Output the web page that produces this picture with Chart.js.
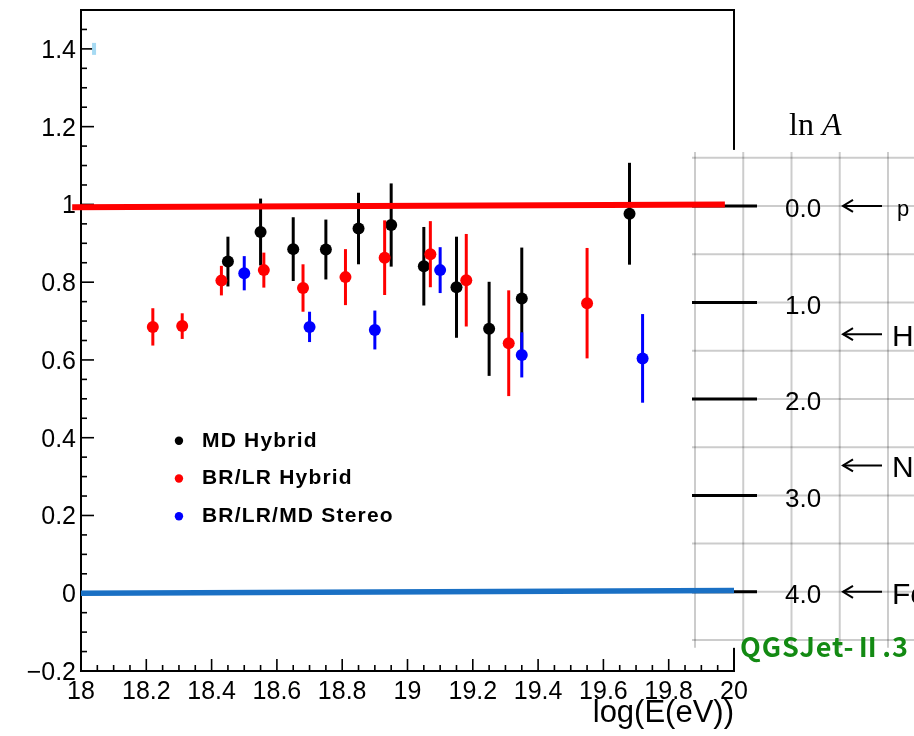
<!DOCTYPE html>
<html>
<head>
<meta charset="utf-8">
<script src="https://cdn.jsdelivr.net/npm/chart.js@4.4.1/dist/chart.umd.min.js"></script>
<style>
  html, body { margin: 0; padding: 0; background: #fff; }
  #wrap { width: 914px; height: 736px; }
</style>
</head>
<body>
<div id="wrap"><canvas id="c" width="914" height="736"></canvas></div>
<script>
// <Xmax>-like composition measure versus log10 energy, three detector sets
const mdX   = [18.45, 18.55, 18.65, 18.75, 18.85, 18.95, 19.05, 19.15, 19.25, 19.35, 19.68];
const mdY   = [0.853, 0.929, 0.885, 0.884, 0.938, 0.947, 0.841, 0.787, 0.680, 0.758, 0.976];
const mdErr = [0.064, 0.086, 0.082, 0.077, 0.092, 0.107, 0.101, 0.130, 0.121, 0.131, 0.131];

const brX   = [18.22, 18.31, 18.43, 18.56, 18.68, 18.81, 18.93, 19.07, 19.18, 19.31, 19.55];
const brY   = [0.685, 0.687, 0.804, 0.831, 0.785, 0.813, 0.863, 0.872, 0.805, 0.643, 0.746];
const brErr = [0.048, 0.033, 0.038, 0.045, 0.061, 0.072, 0.096, 0.085, 0.119, 0.136, 0.142];

const stX   = [18.50, 18.70, 18.90, 19.10, 19.35, 19.72];
const stY   = [0.823, 0.685, 0.677, 0.831, 0.613, 0.604];
const stErr = [0.044, 0.039, 0.050, 0.059, 0.058, 0.114];

// proton (top) and iron (bottom) reference lines
const protonLineX = [17.973, 19.972];
const protonLineY = [0.993, 1.000];
const ironLineX   = [18.0, 20.0];
const ironLineY   = [0.000, 0.007];

// small stray mark near the top-left corner
const markX = [18.04];
const markY = [1.40];

const seriesLabels = ['MD Hybrid', 'BR/LR Hybrid', 'BR/LR/MD Stereo'];

const xTickValues = [18, 18.2, 18.4, 18.6, 18.8, 19, 19.2, 19.4, 19.6, 19.8, 20];
const xTickLabels = ['18', '18.2', '18.4', '18.6', '18.8', '19', '19.2', '19.4', '19.6', '19.8', '20'];
const yTickValues = [-0.2, 0, 0.2, 0.4, 0.6, 0.8, 1.0, 1.2, 1.4];
const yTickLabels = ['\u22120.2', '0', '0.2', '0.4', '0.6', '0.8', '1', '1.2', '1.4'];
const lnATickValues = [0, 1, 2, 3, 4];
const lnATickLabels = ['0.0', '1.0', '2.0', '3.0', '4.0'];

const elementNames = ['p', 'He', 'N', 'Fe'];
const elementLnA   = [0, 1.33, 2.69, 4.0];
const modelName = 'QGSJet-\u2161.3';

const pts = (xs, ys) => xs.map((v, i) => ({ x: v, y: ys[i] }));

// keep the plot frame fixed: no extra room for half-labels at the axis ends
const noEndPadding = s => { s.paddingTop = 0; s.paddingBottom = 0; s.paddingLeft = 0; s.paddingRight = 0; };

// frame, ROOT-style inward ticks, the ln A side panel and the legend
const decorations = {
  id: 'decorations',
  beforeDraw(chart) {
    const { ctx, chartArea: a } = chart;
    const { x, y, lnA } = chart.scales;
    ctx.save();
    ctx.fillStyle = '#fff';
    ctx.fillRect(0, 0, chart.width, chart.height);

    const seg = (x1, y1, x2, y2) => { ctx.beginPath(); ctx.moveTo(x1, y1); ctx.lineTo(x2, y2); ctx.stroke(); };

    // plot frame
    ctx.strokeStyle = '#000';
    ctx.lineWidth = 2;
    ctx.strokeRect(a.left, a.top, a.right - a.left, a.bottom - a.top);

    // x ticks: major every 0.2, minor every 0.05
    ctx.lineWidth = 1.6;
    for (let i = 0; i <= 40; i++) {
      const px = x.getPixelForValue(18 + i * 0.05);
      seg(px, a.bottom, px, a.bottom - (i % 4 === 0 ? 12 : 6));
    }
    // y ticks
    for (let i = 0; i <= 34; i++) {
      const py = y.getPixelForValue(-0.2 + i * 0.05);
      seg(a.left, py, a.left + (i % 4 === 0 ? 13 : 6), py);
    }

    // ln A panel
    const half = (lnA.getPixelForValue(1) - lnA.getPixelForValue(0)) / 2;
    const pLeft = a.right - 42, pRight = chart.width;
    const pTop = lnA.getPixelForValue(-0.58), pBottom = lnA.getPixelForValue(4.58);
    ctx.fillStyle = '#fff';
    ctx.fillRect(pLeft, pTop, pRight - pLeft, pBottom - pTop);
    ctx.strokeStyle = 'rgba(0,0,0,0.2)';
    ctx.lineWidth = 2;
    for (let v = -0.5; v <= 4.5; v += 0.5) {
      const py = lnA.getPixelForValue(v);
      seg(pLeft, py, pRight, py);
    }
    for (let k = 0; k < 5; k++) {
      const px = pLeft + 3 + k * half;
      seg(px, pTop + 2, px, pBottom);
    }
    ctx.strokeStyle = '#000';
    ctx.lineWidth = 3;
    lnATickValues.forEach(v => {
      const py = lnA.getPixelForValue(v);
      seg(pLeft, py, pLeft + 65, py);
    });

    // panel title "ln A"
    const tBase = lnA.getPixelForValue(-0.73);
    ctx.fillStyle = '#000';
    ctx.textBaseline = 'alphabetic';
    ctx.textAlign = 'left';
    ctx.font = '32px "Liberation Serif", "DejaVu Serif", serif';
    ctx.fillText('ln', pLeft + 97, tBase);
    const lnW = ctx.measureText('ln ').width;
    ctx.font = 'italic 32px "Liberation Serif", "DejaVu Serif", serif';
    ctx.fillText('A', pLeft + 97 + lnW, tBase);

    // element arrows
    ctx.lineWidth = 2;
    elementNames.forEach((name, i) => {
      const py = lnA.getPixelForValue(elementLnA[i]);
      const ax = pLeft + 151, bx = pLeft + 190;
      seg(ax, py, bx, py);
      ctx.beginPath();
      ctx.moveTo(ax + 10, py - 6); ctx.lineTo(ax, py); ctx.lineTo(ax + 10, py + 6);
      ctx.stroke();
      const small = name === 'p';
      ctx.font = (small ? 22 : 30) + 'px "Liberation Sans", Arial, sans-serif';
      ctx.fillText(name, pLeft + (small ? 205 : 200), py + (small ? 10 : 12));
    });

    // hadronic model tag
    ctx.fillStyle = '#138a13';
    ctx.font = 'bold 27px "Noto Sans CJK JP", sans-serif';
    const natural = ctx.measureText(modelName).width;
    const chars = [...modelName].length;
    ctx.letterSpacing = ((168 - natural) / (chars - 1)).toFixed(2) + 'px';
    ctx.fillText(modelName, pLeft + 48, lnA.getPixelForValue(4.67));
    ctx.letterSpacing = '0px';

    // legend
    const series = chart.data.datasets.filter(d => d.errors);
    const order = seriesLabels.map(l => series.find(d => d.label === l));
    ctx.font = 'bold 21px "Liberation Sans", Arial, sans-serif';
    ctx.letterSpacing = '1.2px';
    ctx.textBaseline = 'middle';
    order.forEach((d, i) => {
      const ly = y.getPixelForValue(0.392 - i * 0.097);
      const lx = x.getPixelForValue(18.30);
      ctx.fillStyle = d.backgroundColor;
      ctx.beginPath(); ctx.arc(lx, ly, 4.2, 0, Math.PI * 2); ctx.fill();
      ctx.fillStyle = '#000';
      ctx.fillText(d.label, lx + 23, ly);
    });
    ctx.letterSpacing = '0px';
    ctx.restore();
  }
};

// vertical error bars, drawn under each dataset's markers
const errorBars = {
  id: 'errorBars',
  beforeDatasetDraw(chart, args) {
    const ds = chart.data.datasets[args.index];
    if (!ds.errors) return;
    const { ctx } = chart;
    const { x, y } = chart.scales;
    ctx.save();
    ctx.strokeStyle = ds.backgroundColor;
    ctx.lineWidth = 3;
    ds.data.forEach((p, i) => {
      const px = x.getPixelForValue(p.x);
      ctx.beginPath();
      ctx.moveTo(px, y.getPixelForValue(p.y - ds.errors[i]));
      ctx.lineTo(px, y.getPixelForValue(p.y + ds.errors[i]));
      ctx.stroke();
    });
    ctx.restore();
  }
};

const tickFont = { family: '"Liberation Sans", Arial, sans-serif', size: 25 };

new Chart(document.getElementById('c'), {
  type: 'scatter',
  data: {
    datasets: [
      { label: 'p', data: pts(protonLineX, protonLineY), showLine: true, borderColor: '#ff0000',
        borderWidth: 6, pointRadius: 0, clip: false },
      { label: 'Fe', data: pts(ironLineX, ironLineY), showLine: true, borderColor: '#1a70c4',
        borderWidth: 5.5, pointRadius: 0, clip: false },
      { label: seriesLabels[2], data: pts(stX, stY), errors: stErr, backgroundColor: '#0000ff',
        borderWidth: 0, pointRadius: 6 },
      { label: seriesLabels[1], data: pts(brX, brY), errors: brErr, backgroundColor: '#ff0000',
        borderWidth: 0, pointRadius: 6 },
      { label: seriesLabels[0], data: pts(mdX, mdY), errors: mdErr, backgroundColor: '#000000',
        borderWidth: 0, pointRadius: 6 },
      { label: 'mark', data: pts(markX, markY), pointStyle: 'line', rotation: 90, pointRadius: 6,
        borderColor: '#a6daf3', borderWidth: 4 }
    ]
  },
  options: {
    responsive: false,
    animation: false,
    devicePixelRatio: 1,
    layout: { padding: { top: 10, left: 0, right: 0, bottom: 0 } },
    plugins: { legend: { display: false }, tooltip: { enabled: false } },
    scales: {
      x: {
        type: 'linear', position: 'bottom', min: 18, max: 20,
        grid: { display: false, drawTicks: false },
        border: { display: false },
        afterBuildTicks: s => { s.ticks = xTickValues.map(v => ({ value: v })); },
        afterFit: s => { s.height = 65; noEndPadding(s); },
        ticks: { autoSkip: false, maxRotation: 0, padding: 6, color: '#000', font: tickFont,
                 callback: (v, i) => xTickLabels[i] },
        title: { display: true, text: 'log(E(eV))', align: 'end', color: '#000',
                 font: { family: '"Liberation Sans", Arial, sans-serif', size: 31 },
                 padding: { top: 0, bottom: 4 } }
      },
      y: {
        type: 'linear', position: 'left', min: -0.2, max: 1.5,
        grid: { display: false, drawTicks: false },
        border: { display: false },
        afterBuildTicks: s => { s.ticks = yTickValues.map(v => ({ value: v })); },
        afterFit: s => { s.width = 81; noEndPadding(s); },
        ticks: { autoSkip: false, padding: 5, labelOffset: 2, color: '#000', font: tickFont,
                 callback: (v, i) => yTickLabels[i] }
      },
      lnA: {
        type: 'linear', position: 'right', reverse: true, min: -2.03, max: 4.82,
        grid: { display: false, drawTicks: false },
        border: { display: false },
        afterBuildTicks: s => { s.ticks = lnATickValues.map(v => ({ value: v })); },
        afterFit: s => { s.width = 180; noEndPadding(s); },
        ticks: { autoSkip: false, padding: 51, labelOffset: 4, color: '#000',
                 font: { family: '"Liberation Sans", Arial, sans-serif', size: 26 },
                 callback: (v, i) => lnATickLabels[i] }
      }
    }
  },
  plugins: [decorations, errorBars]
});
</script>
</body>
</html>
